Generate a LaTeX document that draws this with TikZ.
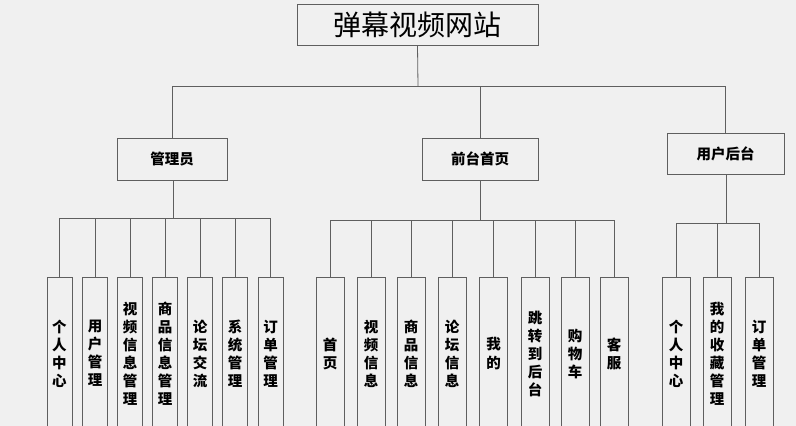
\documentclass[tikz,border=0pt]{standalone}
\usepackage{fontspec}
\newfontfamily\cjk{Noto Sans CJK SC}
\definecolor{bg}{HTML}{F0F0F0}
\definecolor{ln}{HTML}{5F5F5F}
\begin{document}
\begin{tikzpicture}[x=1pt,y=-1pt,
  every node/.style={inner sep=0pt},
  box/.style={draw=ln, line width=0.8pt, fill=bg},
  titlebox/.style={box, minimum width=241pt, minimum height=41pt, font=\cjk\fontsize{28}{30}\selectfont},
  midbox/.style={box, minimum height=42pt, font=\cjk\bfseries\fontsize{14.5}{16}\selectfont},
  leaf/.style={box, minimum height=153pt, minimum width=#1, align=center, font=\cjk\bfseries\fontsize{14.5}{18}\selectfont},
  conn/.style={draw=ln, line width=0.8pt}]
\fill[bg] (0,0) rectangle (796,426);
\useasboundingbox (0,0) rectangle (796,426);
\begin{scope}
\clip (0,0) rectangle (796,426);
% root
\node[titlebox] (root) at (417.5,24.5) {弹幕视频网站};
% level 1
\node[midbox, minimum width=110pt] (admin) at (172,159) {管理员};
\node[midbox, minimum width=116pt] (front) at (480,159) {前台首页};
\node[midbox, minimum width=117pt, minimum height=41pt] (user) at (725.5,153.5) {用户后台};
\coordinate (b0) at (418,86);
\draw[conn] (root.south) -- (b0);
\draw[conn] (admin.north) -- (admin.north |- b0) -- (user.north |- b0) -- (user.north);
\draw[conn] (front.north) -- (front.north |- b0);
% left leaves
\node[leaf=25pt] (a1) at (59.5,353.5) {个\\人\\中\\心};
\node[leaf=25pt] (a2) at (95,353.5) {用\\户\\管\\理};
\node[leaf=25pt] (a3) at (130,353.5) {视\\频\\信\\息\\管\\理};
\node[leaf=25pt] (a4) at (165,353.5) {商\\品\\信\\息\\管\\理};
\node[leaf=25pt] (a5) at (200,353.5) {论\\坛\\交\\流};
\node[leaf=25pt] (a6) at (235,353.5) {系\\统\\管\\理};
\node[leaf=25pt] (a7) at (270.5,353.5) {订\\单\\管\\理};
\coordinate (bA) at (173,218);
\draw[conn] (admin.south -| bA) -- (bA);
\draw[conn] (a1.north) -- (a1.north |- bA) -- (a7.north |- bA) -- (a7.north);
\foreach \n in {a2,a3,a4,a5,a6} \draw[conn] (\n.north) -- (\n.north |- bA);
% middle leaves
\node[leaf=28pt] (f1) at (330,353.5) {首\\页};
\node[leaf=28pt] (f2) at (371,353.5) {视\\频\\信\\息};
\node[leaf=28pt] (f3) at (411,353.5) {商\\品\\信\\息};
\node[leaf=28pt] (f4) at (452,353.5) {论\\坛\\信\\息};
\node[leaf=28pt] (f5) at (493.5,353.5) {我\\的};
\node[leaf=28pt] (f6) at (535,353.5) {跳\\转\\到\\后\\台};
\node[leaf=28pt] (f7) at (575,353.5) {购\\物\\车};
\node[leaf=28pt] (f8) at (614,353.5) {客\\服};
\coordinate (bF) at (480,220);
\draw[conn] (front.south) -- (bF);
\draw[conn] (f1.north) -- (f1.north |- bF) -- (f8.north |- bF) -- (f8.north);
\foreach \n in {f2,f3,f4,f5,f6,f7} \draw[conn] (\n.north) -- (\n.north |- bF);
% right leaves
\node[leaf=28pt] (u1) at (676,353.5) {个\\人\\中\\心};
\node[leaf=28pt] (u2) at (717,353.5) {我\\的\\收\\藏\\管\\理};
\node[leaf=28pt] (u3) at (759,353.5) {订\\单\\管\\理};
\coordinate (bU) at (726,223);
\draw[conn] (user.south -| bU) -- (bU);
\draw[conn] (u1.north) -- (u1.north |- bU) -- (u3.north |- bU) -- (u3.north);
\draw[conn] (u2.north) -- (u2.north |- bU);
\end{scope}
\end{tikzpicture}
\end{document}
